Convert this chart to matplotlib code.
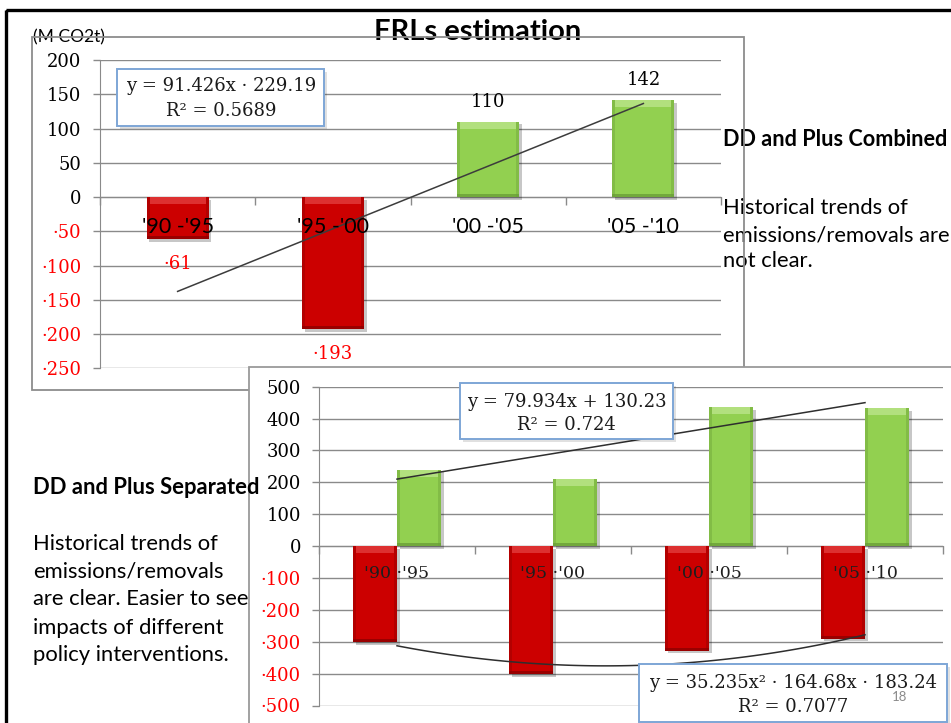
import numpy as np
import matplotlib
matplotlib.use("Agg")
import matplotlib.pyplot as plt
import matplotlib.patheffects as pe
from matplotlib.patches import Rectangle
from matplotlib.transforms import Affine2D

# ---------------- data ----------------
# DD and Plus combined (M CO2t per period)
periods_top = ["'90 -'95", "'95 -'00", "'00 -'05", "'05 -'10"]
combined = [-61, -193, 110, 142]
combined_labels = ["·61", "·193", "110", "142"]
combined_fit = [91.426, -229.19]                 # slope, intercept
combined_fit_text = ["y = 91.426x · 229.19", "R² = 0.5689"]
top_ticks = [200, 150, 100, 50, 0, -50, -100, -150, -200, -250]
top_tick_labels = ["200", "150", "100", "50", "0", "·50", "·100", "·150", "·200", "·250"]

# DD and Plus separated
periods_bottom = ["'90 ·'95", "'95 ·'00", "'00 ·'05", "'05 ·'10"]
dd_values = [-302, -402, -328, -290]
plus_values = [240, 210, 437, 432]
plus_fit = [79.934, 130.23]                      # slope, intercept
dd_fit = [35.235, -164.68, -183.24]              # x^2, x, constant
plus_fit_text = ["y = 79.934x + 130.23", "R² = 0.724"]
dd_fit_text = ["y = 35.235x² · 164.68x · 183.24", "R² = 0.7077"]
bottom_ticks = [500, 400, 300, 200, 100, 0, -100, -200, -300, -400, -500]
bottom_tick_labels = ["500", "400", "300", "200", "100", "0",
                      "·100", "·200", "·300", "·400", "·500"]

# ---------------- styling ----------------
GRID = "#8a8a8a"
NEG = "#ff0000"
RED, RED_LIGHT, RED_DARK = "#cc0000", "#dd3030", "#8e0000"
GREEN, GREEN_LIGHT, GREEN_DARK = "#92d050", "#b2e07e", "#6a9e38"
SERIF = "DejaVu Serif"
SANS = "Lato"

W, H = 951, 723
fig = plt.figure(figsize=(W / 100, H / 100), dpi=100)
fig.patch.set_facecolor("white")
PX = Affine2D().scale(1 / W, -1 / H).translate(0, 1) + fig.transFigure


def px_rect(x0, y0, x1, y1, z, **kw):
    r = Rectangle((x0, y0), x1 - x0, y1 - y0, transform=PX, zorder=z, **kw)
    fig.add_artist(r)
    return r


def px_text(x, y, s, z=6, **kw):
    return fig.text(x, y, s, transform=PX, zorder=z, **kw)


def px_axes(x0, y0, x1, y1, z):
    ax = fig.add_axes([x0 / W, 1 - y1 / H, (x1 - x0) / W, (y1 - y0) / H], zorder=z)
    ax.set_facecolor("none")
    return ax


def style_axes(ax, ticks, labels, ncat, pad):
    ax.set_xlim(-0.5, ncat - 0.5)
    ax.set_ylim(min(ticks), max(ticks))
    ax.set_yticks(ticks)
    ax.set_yticklabels(labels, fontfamily=SERIF, fontsize=13)
    for lab, t in zip(ax.get_yticklabels(), ticks):
        lab.set_color(NEG if t < 0 else "#000000")
    ax.yaxis.grid(True, color=GRID, lw=1.0)
    ax.set_axisbelow(True)
    ax.tick_params(axis="y", length=5, color=GRID, width=1.0, pad=pad)
    for s in ["top", "right"]:
        ax.spines[s].set_visible(False)
    ax.spines["left"].set_color(GRID)
    ax.spines["bottom"].set_position(("data", 0))
    ax.spines["bottom"].set_color(GRID)
    ax.spines["bottom"].set_zorder(0.6)
    ax.set_xticks(np.arange(ncat + 1) - 0.5)
    ax.set_xticklabels([])
    ax.tick_params(axis="x", length=6, color=GRID, width=1.0, direction="out")


def bevel_bars(ax, xs, vals, width, base, light, dark, z=2):
    xs = np.asarray(xs, float)
    vals = np.asarray(vals, float)
    ppu_y = ax.bbox.height / abs(np.diff(ax.get_ylim())[0])
    ppu_x = ax.bbox.width / abs(np.diff(ax.get_xlim())[0])
    top = np.maximum(vals, 0)
    bot = np.minimum(vals, 0)
    ax.bar(xs, vals, width, color=base, lw=0, zorder=z,
           path_effects=[pe.SimplePatchShadow(offset=(2, -2), shadow_rgbFace="k", alpha=0.22),
                         pe.Normal()])
    edge = 3 / ppu_x
    ax.bar(xs - width / 2 + edge / 2, vals, edge, color=dark, alpha=0.4, lw=0, zorder=z + 0.1)
    ax.bar(xs + width / 2 - edge / 2, vals, edge, color=dark, alpha=0.4, lw=0, zorder=z + 0.1)
    hl = 7 / ppu_y
    ax.bar(xs, np.full_like(vals, hl), width - 2 * edge, bottom=top - hl,
           color=light, lw=0, zorder=z + 0.2)
    bl = 3 / ppu_y
    ax.bar(xs, np.full_like(vals, bl), width, bottom=bot, color=dark, alpha=0.8,
           lw=0, zorder=z + 0.2)


def eq_box(x0, y0, x1, y1, lines, ys, z=7):
    px_rect(x0 + 3, y0 + 3, x1 + 3, y1 + 3, z, facecolor="#000000", alpha=0.12, lw=0)
    px_rect(x0, y0, x1, y1, z + 0.1, facecolor="white", edgecolor="#7ea6d6", lw=1.4)
    for s, y in zip(lines, ys):
        px_text((x0 + x1) / 2, y, s, z=z + 0.2, ha="center", va="center",
                fontfamily=SERIF, fontsize=13, color="#1a1a1a")


# ---------------- slide frames ----------------
px_rect(31.7, 36.7, 743.5, 390, 0.2, facecolor="white", lw=0)
px_rect(31.7, 36.7, 743.5, 390, 1.5, fill=False, edgecolor="#8c8c8c", lw=1.3)
px_rect(249, 367, 1000, 800, 2, facecolor="white", edgecolor="#9a9a9a", lw=1.3)
px_rect(5.5, 10, 1200, 900, 9, fill=False, edgecolor="black", lw=2.4)

# ---------------- top chart: combined ----------------
ax1 = px_axes(100, 60, 721, 368.3, 1)
style_axes(ax1, top_ticks, top_tick_labels, len(periods_top), pad=8.5)
x1 = np.arange(len(periods_top))
for i in range(len(combined)):
    v = combined[i]
    if v < 0:
        bevel_bars(ax1, [x1[i]], [v], 0.4, RED, RED_LIGHT, RED_DARK)
    else:
        bevel_bars(ax1, [x1[i]], [v], 0.4, GREEN, GREEN_LIGHT, GREEN_DARK)
for i, (v, lab) in enumerate(zip(combined, combined_labels)):
    ax1.annotate(lab, (x1[i], v), xytext=(0, 20 if v > 0 else -25),
                 textcoords="offset pixels", ha="center", va="center",
                 fontfamily=SERIF, fontsize=13, color=NEG if v < 0 else "#000000",
                 zorder=6)
for i, lab in enumerate(periods_top):
    ax1.annotate(lab, (x1[i], 0), xytext=(0, -29.5), textcoords="offset pixels",
                 ha="center", va="center", fontfamily=SANS, fontsize=15.5,
                 color="#000000", zorder=6)
xf = x1 + 1
ax1.plot(x1, combined_fit[0] * xf + combined_fit[1], color="#3c3c3c", lw=1.1, zorder=5)

# ---------------- bottom chart: separated ----------------
ax2 = px_axes(319, 386.7, 943, 705.5, 3)
style_axes(ax2, bottom_ticks, bottom_tick_labels, len(periods_bottom), pad=8)
x2 = np.arange(len(periods_bottom))
bw = 0.282
bevel_bars(ax2, x2 - bw / 2, dd_values, bw, RED, RED_LIGHT, RED_DARK)
bevel_bars(ax2, x2 + bw / 2, plus_values, bw, GREEN, GREEN_LIGHT, GREEN_DARK)
for i, lab in enumerate(periods_bottom):
    ax2.annotate(lab, (x2[i], 0), xytext=(0, -27), textcoords="offset pixels",
                 ha="center", va="center", fontfamily=SERIF, fontsize=12.5,
                 color="#1e1e1e", zorder=6)
xf2 = x2 + 1
ax2.plot(x2, plus_fit[0] * xf2 + plus_fit[1], color="#2e2e2e", lw=1.1, zorder=5)
t = np.linspace(1, 4, 120)
ax2.plot(t - 1, dd_fit[0] * t ** 2 + dd_fit[1] * t + dd_fit[2],
         color="#2e2e2e", lw=1.1, zorder=5)

# ---------------- equation boxes ----------------
eq_box(117.3, 69, 324.3, 126, combined_fit_text, [86, 111], z=7)
eq_box(460, 383, 673, 439, plus_fit_text, [401.7, 425], z=7)
eq_box(639, 664, 947, 722, dd_fit_text, [682.7, 706.7], z=7)

# ---------------- slide text ----------------
px_text(478, 32, "FRLs estimation", z=1.2, ha="center", va="center",
        fontfamily=SANS, fontsize=21, fontweight="bold")
px_text(33, 37, "(M CO2t)", z=1.2, ha="left", va="center",
        fontfamily=SANS, fontsize=12.5)

px_text(723, 140, "DD and Plus Combined", z=1.2, ha="left", va="center",
        fontfamily=SANS, fontsize=15.6, fontweight="bold")
for s, y in zip(["Historical trends of", "emissions/removals are", "not clear."],
                [208, 235, 261]):
    px_text(723, y, s, z=1.2, ha="left", va="center", fontfamily=SANS, fontsize=15.8)

px_text(33, 488, "DD and Plus Separated", z=6, ha="left", va="center",
        fontfamily=SANS, fontsize=15.8, fontweight="bold")
for s, y in zip(["Historical trends of", "emissions/removals", "are clear. Easier to see",
                 "impacts of different", "policy interventions."],
                [544, 572, 599, 628, 655]):
    px_text(33, y, s, z=6, ha="left", va="center", fontfamily=SANS, fontsize=15.8)

px_text(900, 697, "18", z=8, ha="center", va="center", fontfamily=SANS,
        fontsize=9.5, color="#8b8b8b")

fig.savefig("out.png", dpi=100, facecolor="white")
